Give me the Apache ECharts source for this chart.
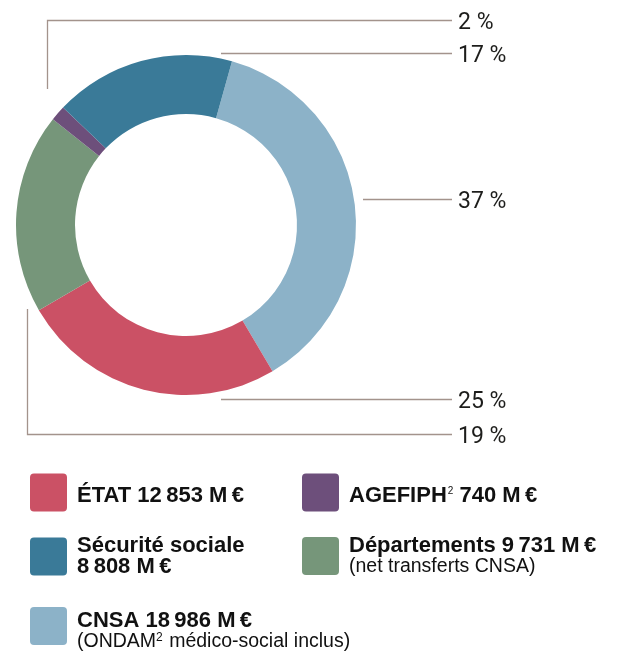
<!DOCTYPE html>
<html>
<head>
<meta charset="utf-8">
<script src="https://cdn.jsdelivr.net/npm/echarts@6/dist/echarts.min.js"></script>
<style>
  html, body { margin: 0; padding: 0; background: #fff; }
  #chart { width: 620px; height: 656px; }
</style>
</head>
<body>
<div id="chart"></div>
<script>
// financeurs, dans l'ordre des parts (sens horaire)
const categories = ['CNSA', 'ÉTAT', 'Départements', 'AGEFIPH', 'Sécurité sociale']
const values = [18986, 12853, 9731, 740, 8808] // M€
const pctLabels = ['37 %', '25 %', '19 %', '2 %', '17 %']
const notes = ['(ONDAM{sup|2} médico-social inclus)', '', '(net transferts CNSA)', '', '']
const colors = ['#8cb2c8', '#cb5165', '#76967a', '#6d4f7b', '#3a7a98']

const FONT = "'Liberation Sans', Arial, sans-serif"
const lineColor = '#a3938c'

// lignes de rappel : points + hauteur du texte
const leaders = [
  { pts: [[363, 199.5], [452, 199.5]], y: 202 },
  { pts: [[221, 399.5], [452, 399.5]], y: 402 },
  { pts: [[27.5, 309], [27.5, 434.5], [452, 434.5]], y: 437 },
  { pts: [[47.5, 89], [47.5, 20.5], [452, 20.5]], y: 23 },
  { pts: [[221, 53.5], [452, 53.5]], y: 56 }
]

// position des légendes (colonne gauche / droite) + décalage du texte
const legendPos = [
  { left: 30, top: 607, pad: 10 },
  { left: 30, top: 473.5, pad: 6 },
  { left: 302, top: 535, pad: 0 },
  { left: 302, top: 473.5, pad: 6 },
  { left: 30, top: 535, pad: 0 }
]

function fmt(v) {
  return String(v).replace(/\B(?=(\d{3})+(?!\d))/g, '\u2009')
}

function legendText(name) {
  const i = categories.indexOf(name)
  const val = fmt(values[i]) + ' M\u2009€'
  let head
  if (name === 'AGEFIPH') head = '{b|AGEFIPH}{sup|2}{b| ' + val + '}'
  else if (name === 'Sécurité sociale') head = '{b|Sécurité sociale}\n{b|' + val + '}'
  else head = '{b|' + name + ' ' + val + '}'
  if (notes[i]) {
    const parts = notes[i].split('{sup|2}')
    let n = '{s|' + parts[0] + '}'
    if (parts.length > 1) n += '{ssup|2}{s|' + parts[1] + '}'
    head += '\n' + n
  }
  return head
}

const rich = {
  b: { fontFamily: FONT, fontWeight: 'bold', fontSize: 22, lineHeight: 21, color: '#111' },
  sup: { fontFamily: FONT, fontSize: 10, lineHeight: 21, padding: [0, 0, 9, 1], color: '#111' },
  s: { fontFamily: FONT, fontSize: 19.5, lineHeight: 20, color: '#111' },
  ssup: { fontFamily: FONT, fontSize: 12, lineHeight: 20, padding: [0, 1, 8, 0], color: '#111' }
}

const chart = echarts.init(document.getElementById('chart'))

const graphics = []
leaders.forEach(function (l, i) {
  graphics.push({
    type: 'polyline',
    shape: { points: l.pts },
    style: { stroke: lineColor, lineWidth: 1.3, fill: null }
  })
  graphics.push({
    type: 'text',
    x: 458,
    y: l.y,
    style: {
      text: pctLabels[i],
      font: '400 23px Roboto, sans-serif',
      fill: '#1d1d1b',
      verticalAlign: 'middle'
    }
  })
})

const option = {
  animation: false,
  legend: categories.map(function (name, i) {
    return {
      data: [name],
      left: legendPos[i].left,
      top: legendPos[i].top,
      padding: 0,
      orient: 'vertical',
      icon: 'path://M4,0 H33 A4,4 0 0 1 37,4 V34 A4,4 0 0 1 33,38 H4 A4,4 0 0 1 0,34 V4 A4,4 0 0 1 4,0 Z',
      itemWidth: 37,
      itemHeight: 38,
      selectedMode: false,
      formatter: legendText,
      textStyle: { padding: [legendPos[i].pad, 0, 0, 5], rich: rich }
    }
  }),
  graphic: graphics,
  series: [
    {
      type: 'pie',
      center: [186, 225],
      radius: [111, 170],
      startAngle: 74.3,
      clockwise: true,
      label: { show: false },
      labelLine: { show: false },
      emphasis: { disabled: true },
      data: categories.map(function (name, i) {
        return { name: name, value: values[i], itemStyle: { color: colors[i] } }
      })
    }
  ]
}

chart.setOption(option)
</script>
</body>
</html>
